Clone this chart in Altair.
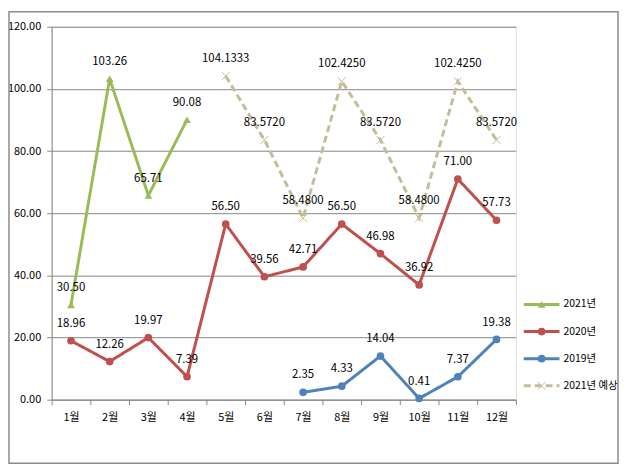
import altair as alt
import pandas as pd

months = ["1월", "2월", "3월", "4월", "5월", "6월", "7월", "8월", "9월", "10월", "11월", "12월"]
series_names = ["2021년", "2020년", "2019년", "2021년 예상"]
colors = ["#9BBB59", "#C0504D", "#4F81BD", "#C4BD97"]

s2021 = [30.50, 103.26, 65.71, 90.08, None, None, None, None, None, None, None, None]
s2020 = [18.96, 12.26, 19.97, 7.39, 56.50, 39.56, 42.71, 56.50, 46.98, 36.92, 71.00, 57.73]
s2019 = [None, None, None, None, None, None, 2.35, 4.33, 14.04, 0.41, 7.37, 19.38]
s2021f = [None, None, None, None, 104.1333, 83.5720, 58.4800, 102.4250, 83.5720, 58.4800, 102.4250, 83.5720]

rows = []
for name, vals, fmt in [("2021년", s2021, "{:.2f}"), ("2020년", s2020, "{:.2f}"),
                        ("2019년", s2019, "{:.2f}"), ("2021년 예상", s2021f, "{:.4f}")]:
    for m, v in zip(months, vals):
        if v is not None:
            rows.append({"month": m, "value": v, "series": name, "label": fmt.format(v)})
df = pd.DataFrame(rows)
actual = df[df.series != "2021년 예상"]
forecast = df[df.series == "2021년 예상"]

FONT = "Noto Sans CJK KR"
GRID = "#868686"
XPATH = "M-1,-1L1,1M-1,1L1,-1"

color_scale = alt.Scale(domain=series_names, range=colors)
dash_scale = alt.Scale(domain=series_names, range=[[1, 0], [1, 0], [1, 0], [7, 4]])
shape_scale = alt.Scale(domain=series_names[:3], range=["triangle-up", "circle", "circle"])

x_enc = alt.X("month:N", sort=months, bandPosition=0.5,
              scale=alt.Scale(domain=months, paddingInner=0, paddingOuter=0),
              axis=alt.Axis(title=None, labelAngle=0, tickBand="extent", grid=False,
                            domainColor=GRID, tickColor=GRID, tickSize=5, labelPadding=7,
                            labelFont=FONT, labelFontSize=11, labelColor="#000"))
y_enc = alt.Y("value:Q", scale=alt.Scale(domain=[0, 120], nice=False),
              axis=alt.Axis(title=None, values=[0, 20, 40, 60, 80, 100, 120], format=".2f",
                            gridColor=GRID, domainColor=GRID, tickColor=GRID, tickSize=5,
                            labelPadding=6, labelFont=FONT, labelFontSize=11, labelColor="#000"))

base = alt.Chart(df)
lines = base.mark_line(strokeWidth=3).encode(
    x=x_enc, y=y_enc,
    color=alt.Color("series:N", scale=color_scale, legend=None),
    strokeDash=alt.StrokeDash("series:N", scale=dash_scale, legend=None),
    detail="series:N",
)
pts = alt.Chart(actual).mark_point(filled=True, opacity=1).encode(
    x=x_enc, y=y_enc,
    color=alt.Color("series:N", scale=color_scale, legend=None),
    shape=alt.Shape("series:N", scale=shape_scale, legend=None),
    size=alt.value(60),
)
fpts = alt.Chart(forecast).mark_point(filled=False, shape=XPATH, size=64, strokeWidth=1,
                                      color="#C4BD97", opacity=1).encode(x=x_enc, y=y_enc)
labels = base.mark_text(dy=-17, fontSize=11.5, font=FONT, color="#000").encode(
    x=x_enc, y=y_enc, text="label:N")

# custom legend
leg_df = pd.DataFrame({"series": series_names})
leg_y = alt.Y("series:N", sort=series_names,
              scale=alt.Scale(domain=series_names, range=[280, 362], type="point", padding=0),
              axis=None)
leg_lines = alt.Chart(leg_df).mark_rule(strokeWidth=3).encode(
    x=alt.value(476), x2=alt.value(512), y=leg_y,
    color=alt.Color("series:N", scale=color_scale, legend=None),
    strokeDash=alt.StrokeDash("series:N", scale=dash_scale, legend=None),
)
leg_pts = alt.Chart(leg_df.iloc[:3]).mark_point(filled=True, opacity=1).encode(
    x=alt.value(494), y=leg_y,
    color=alt.Color("series:N", scale=color_scale, legend=None),
    shape=alt.Shape("series:N", scale=shape_scale, legend=None),
    size=alt.value(60),
)
leg_fpt = alt.Chart(leg_df.iloc[3:]).mark_point(filled=False, shape=XPATH, size=64, strokeWidth=1,
                                                color="#C4BD97", opacity=1).encode(
    x=alt.value(494), y=leg_y)
leg_text = alt.Chart(leg_df).mark_text(align="left", baseline="middle", fontSize=10.5,
                                       font=FONT, color="#000").encode(
    x=alt.value(516), y=leg_y, text="series:N")

border = alt.Chart(pd.DataFrame({"a": [0]})).mark_rect(fillOpacity=0, stroke="#8c8c8c",
                                                        strokeWidth=1.5).encode(
    x=alt.value(-43), x2=alt.value(571), y=alt.value(-15), y2=alt.value(440))

main = alt.layer(lines, pts, fpts, labels)
legend = alt.layer(leg_lines, leg_pts, leg_fpt, leg_text)

chart = alt.layer(border, main, legend).resolve_scale(y="independent").properties(
    width=468, height=376,
    autosize=alt.AutoSizeParams(type="none"),
    padding={"left": 44, "top": 17, "right": 104, "bottom": 66},
).configure_view(stroke=None).configure(background="white")

chart.save("out.html", embed_options={"renderer": "svg", "actions": False})
